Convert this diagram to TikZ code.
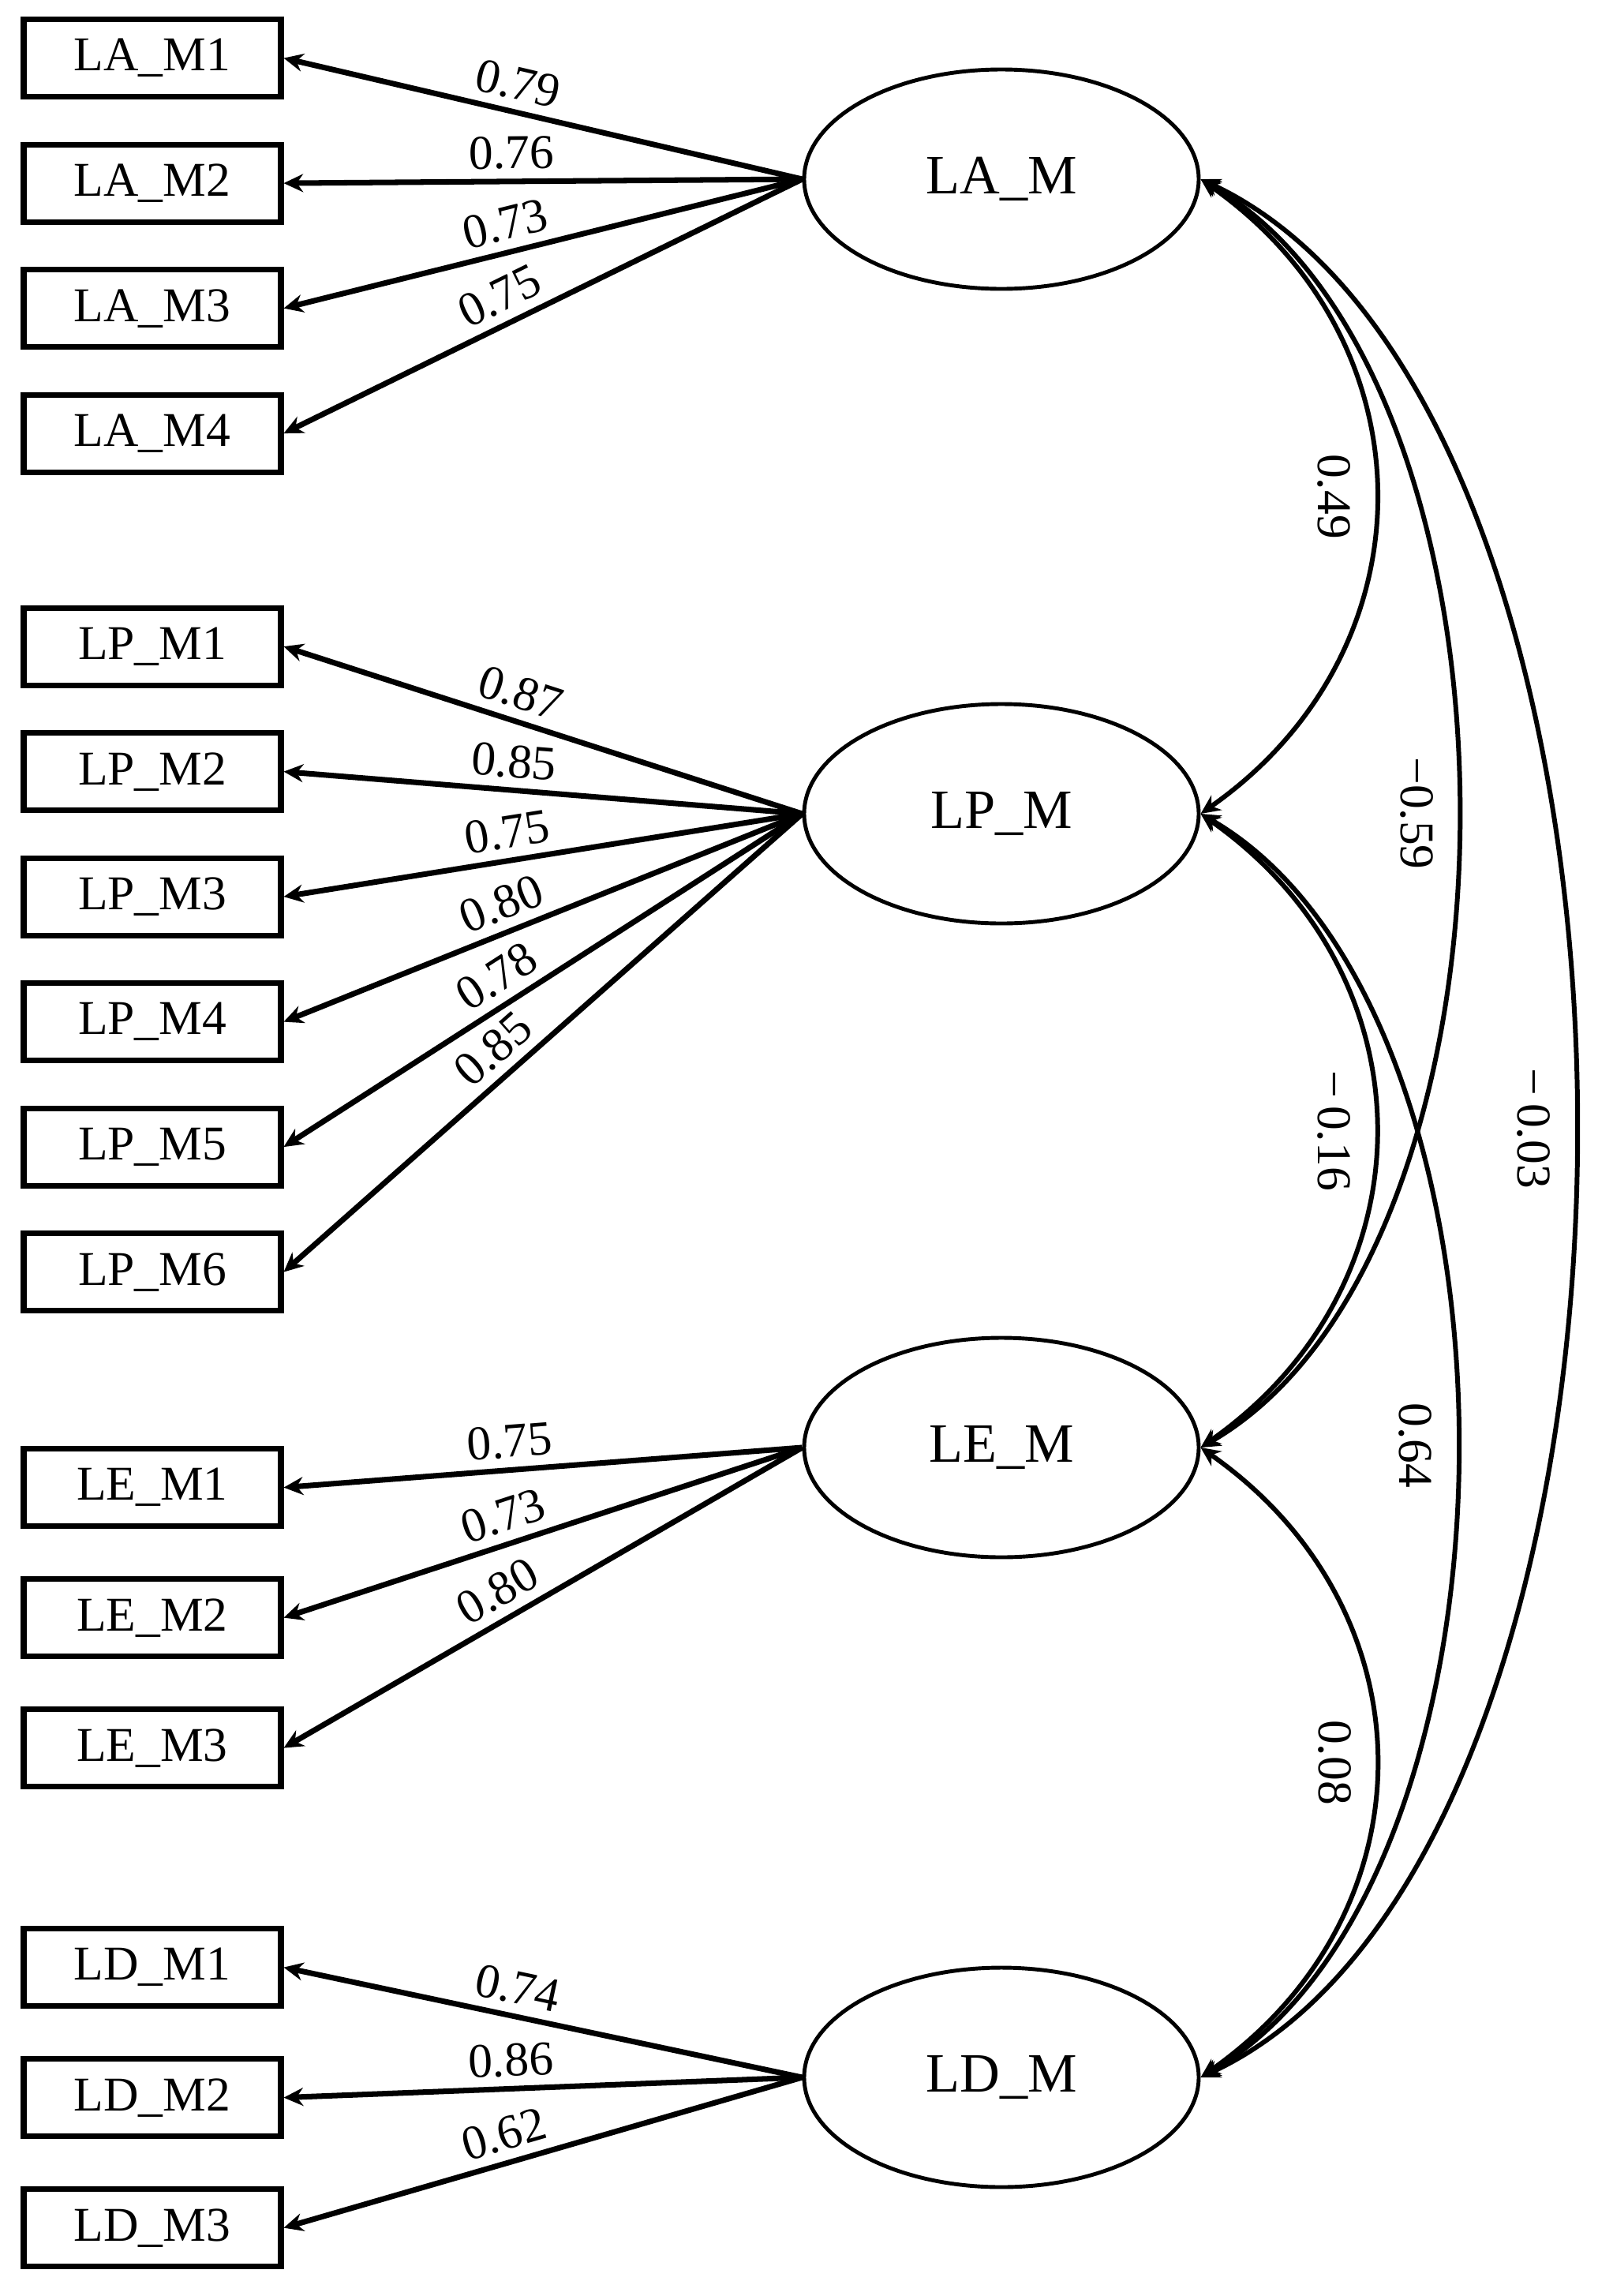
\documentclass[tikz,border=0pt]{standalone}
\usepackage{fontspec}
\setmainfont{Liberation Serif}
\usetikzlibrary{arrows.meta,shapes.geometric,positioning}
\tikzset{node distance=1.585cm, >={Stealth[length=7pt,width=6.5pt]}}

\begin{document}
\begin{tikzpicture}[
	obs/.style={draw, line width=2pt, minimum width=3.26cm, minimum height=0.98cm, font=\fontsize{17.5}{20}\selectfont},
	lat/.style={draw, ellipse, line width=1.4pt, minimum width=5cm, minimum height=2.78cm, font=\fontsize{20}{24}\selectfont},
	load/.style={->, line width=2pt},
	cov/.style={<->, line width=1.7pt},
	lbl/.style={sloped, above, pos=0.56, font=\fontsize{17.5}{20}\selectfont},
	clbl/.style={midway, rotate=-90, anchor=north, inner sep=8pt, font=\fontsize{17.5}{20}\selectfont}]
		\useasboundingbox (0,0) rectangle (20.44,-29.09);
		% latent factors
		\node[lat](LA) at (12.69,-2.27){LA\_M};
		\node[lat](LP) at (12.69,-10.31){LP\_M};
		\node[lat](LE) at (12.69,-18.34){LE\_M};
		\node[lat](LD) at (12.69,-26.32){LD\_M};
		% indicators
		\node[obs](LAM1) at (1.93,-0.736){LA\_M1};
		\node[obs](LAM2)[below of=LAM1]{LA\_M2};
		\node[obs](LAM3)[below of=LAM2]{LA\_M3};
		\node[obs](LAM4)[below of=LAM3]{LA\_M4};
		\node[obs](LPM1)[below of=LAM4, node distance=2.7cm]{LP\_M1};
		\node[obs](LPM2)[below of=LPM1]{LP\_M2};
		\node[obs](LPM3)[below of=LPM2]{LP\_M3};
		\node[obs](LPM4)[below of=LPM3]{LP\_M4};
		\node[obs](LPM5)[below of=LPM4]{LP\_M5};
		\node[obs](LPM6)[below of=LPM5]{LP\_M6};
		\node[obs](LEM1)[below of=LPM6, node distance=2.73cm]{LE\_M1};
		\node[obs](LEM2)[below of=LEM1, node distance=1.65cm]{LE\_M2};
		\node[obs](LEM3)[below of=LEM2, node distance=1.65cm]{LE\_M3};
		\node[obs](LDM1)[below of=LEM3, node distance=2.78cm]{LD\_M1};
		\node[obs](LDM2)[below of=LDM1, node distance=1.65cm]{LD\_M2};
		\node[obs](LDM3)[below of=LDM2, node distance=1.65cm]{LD\_M3};
		% loadings
		\draw[load](LA.west) -- node[lbl]{0.79}(LAM1.east);
		\draw[load](LA.west) -- node[lbl]{0.76}(LAM2.east);
		\draw[load](LA.west) -- node[lbl]{0.73}(LAM3.east);
		\draw[load](LA.west) -- node[lbl]{0.75}(LAM4.east);
		\draw[load](LP.west) -- node[lbl]{0.87}(LPM1.east);
		\draw[load](LP.west) -- node[lbl]{0.85}(LPM2.east);
		\draw[load](LP.west) -- node[lbl]{0.75}(LPM3.east);
		\draw[load](LP.west) -- node[lbl]{0.80}(LPM4.east);
		\draw[load](LP.west) -- node[lbl]{0.78}(LPM5.east);
		\draw[load](LP.west) -- node[lbl]{0.85}(LPM6.east);
		\draw[load](LE.west) -- node[lbl]{0.75}(LEM1.east);
		\draw[load](LE.west) -- node[lbl]{0.73}(LEM2.east);
		\draw[load](LE.west) -- node[lbl]{0.80}(LEM3.east);
		\draw[load](LD.west) -- node[lbl]{0.74}(LDM1.east);
		\draw[load](LD.west) -- node[lbl]{0.86}(LDM2.east);
		\draw[load](LD.west) -- node[lbl]{0.62}(LDM3.east);
		% correlations
		\draw[cov](LA.east) to[out=-35, in=35, looseness=1.15] node[clbl]{0.49}(LP.east);
		\draw[cov](LA.east) to[out=-30, in=30, looseness=0.8] node[clbl]{−0.59}(LE.east);
		\draw[cov](LA.east) to[out=-25, in=25, looseness=0.744] node[clbl]{−\,0.03}(LD.east);
		\draw[cov](LP.east) to[out=-35, in=35, looseness=1.15] node[clbl]{−\,0.16}(LE.east);
		\draw[cov](LP.east) to[out=-30, in=30, looseness=0.8] node[clbl]{0.64}(LD.east);
		\draw[cov](LE.east) to[out=-35, in=35, looseness=1.16] node[clbl]{0.08}(LD.east);
	\end{tikzpicture}
\end{document}
